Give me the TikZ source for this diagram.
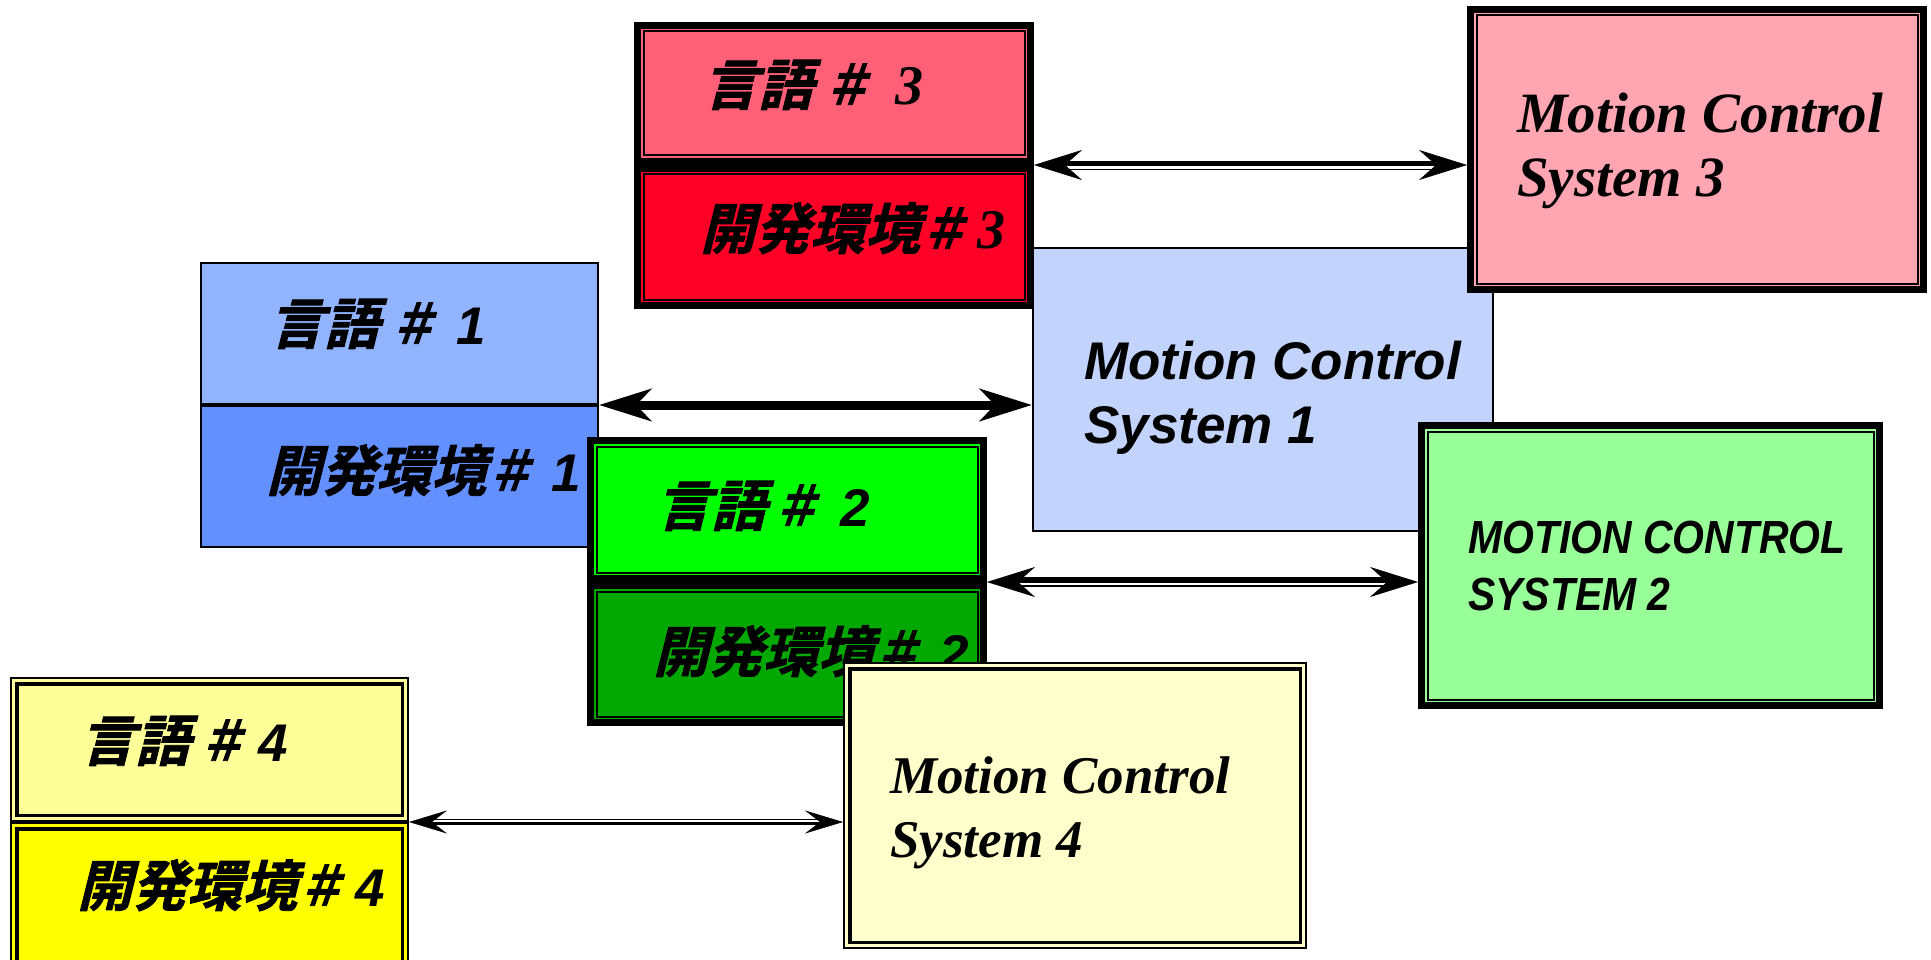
\documentclass[tikz,border=0pt]{standalone}
\usepackage{fontspec}
\setmainfont{Liberation Serif}
\setsansfont{Liberation Sans}
\newfontfamily\jpfont[FakeSlant=0.25,FakeBold=1.5]{Noto Sans CJK JP Bold}
\newfontfamily\hashfont[FakeSlant=0.25,FakeBold=1.5,FakeStretch=0.85]{Noto Sans CJK JP Bold}
\newfontfamily\narrowsans[FakeStretch=0.88]{Liberation Sans}
\usetikzlibrary{arrows.meta}

\definecolor{redlight}{HTML}{FF6078}
\definecolor{reddeep}{HTML}{FF0026}
\definecolor{redsys}{HTML}{FFA6B2}
\definecolor{bluelight}{HTML}{92B4FF}
\definecolor{bluedeep}{HTML}{6290FF}
\definecolor{bluesys}{HTML}{C2D4FC}
\definecolor{greenlight}{HTML}{00FF00}
\definecolor{greendeep}{HTML}{00A800}
\definecolor{greensys}{HTML}{99FF99}
\definecolor{yellowlight}{HTML}{FFFF99}
\definecolor{yellowdeep}{HTML}{FFFF00}
\definecolor{yellowsys}{HTML}{FFFFCC}

% "# n" part of the environment labels: gap, hash, gap, number
\newcommand{\hashmark}{{\hashfont\fontsize{55}{60}\selectfont ＃}}
\newcommand{\numsans}[3]{\hspace{#1pt}\hashmark\hspace{#2pt}{\sffamily\bfseries\itshape\fontsize{53}{60}\selectfont #3}}
\newcommand{\numserif}[3]{\hspace{#1pt}\hashmark\hspace{#2pt}{\rmfamily\bfseries\itshape\fontsize{56}{60}\selectfont #3}}

\tikzset{
  box/.style={rectangle, inner sep=0pt, anchor=center},
  plainbox/.style={box, draw=black, line width=2pt, outer sep=1pt},
  thickthin/.style={box, draw=black, line width=7pt, outer sep=3.5pt,
    path picture={\draw[black, line width=2pt]
      ([shift={(6pt,6pt)}]path picture bounding box.south west) rectangle
      ([shift={(-6pt,-6pt)}]path picture bounding box.north east);}},
  thinthick/.style={box, draw=black, line width=2pt, outer sep=1pt,
    path picture={\draw[black, line width=3.5pt]
      ([shift={(5.75pt,5.75pt)}]path picture bounding box.south west) rectangle
      ([shift={(-5.75pt,-5.75pt)}]path picture bounding box.north east);}},
  jplabel/.style={anchor=base west, inner sep=0pt, font=\jpfont\fontsize{55}{60}\selectfont},
  syslabel/.style={anchor=base west, inner sep=0pt, align=left},
  tipsbig/.style={arrows={Stealth[length=48pt,width=30pt,inset=17pt]-Stealth[length=48pt,width=30pt,inset=17pt]}},
  tipsbold/.style={arrows={Stealth[length=52pt,width=32pt,inset=15pt]-Stealth[length=52pt,width=32pt,inset=15pt]}},
  tipssmall/.style={arrows={Stealth[length=38pt,width=23pt,inset=15pt]-Stealth[length=38pt,width=23pt,inset=15pt]}},
}

\begin{document}
\begin{tikzpicture}[x=1pt,y=-1pt]
\useasboundingbox (0,0) rectangle (1931,960);
\clip (0,0) rectangle (1931,960);
\fill[white] (0,0) rectangle (1931,960);

% environment 1
\node[plainbox, fill=bluelight, minimum width=397pt, minimum height=141pt] (b1a) at (399.5,333.5) {};
\node[jplabel] (t1a) at (269,344) {言語\numsans{10}{21}{1}};
\node[plainbox, fill=bluedeep, minimum width=397pt, minimum height=141pt] (b1b) at (399.5,476.5) {};
\node[jplabel] (t1b) at (266,491) {開発環境\numsans{0}{19}{1}};

% motion control system 1 (base anchor = last line)
\node[plainbox, fill=bluesys, minimum width=460pt, minimum height=283pt] (m1) at (1263,389.5) {};
\node[syslabel, font=\sffamily\bfseries\itshape\fontsize{53}{64}\selectfont] (tm1) at (1084,443) {Motion Control\\System 1};

% environment 3
\node[thickthin, fill=redlight, minimum width=393pt, minimum height=136pt] (b3a) at (834,93.5) {};
\node[jplabel] (t3a) at (703,105) {言語\numserif{10}{26}{3}};
\node[thickthin, fill=reddeep, minimum width=393pt, minimum height=137pt] (b3b) at (834,237) {};
\node[jplabel] (t3b) at (700,249) {開発環境\numserif{0}{11}{3}};

% motion control system 3
\node[thickthin, fill=redsys, minimum width=453pt, minimum height=280pt] (m3) at (1697,149.5) {};
\node[syslabel, font=\rmfamily\bfseries\itshape\fontsize{57}{64}\selectfont] (tm3) at (1517,197) {Motion Control\\System 3};

% environment 2
\node[thickthin, fill=greenlight, minimum width=393pt, minimum height=138pt] (b2a) at (787,509.5) {};
\node[jplabel] (t2a) at (656,526) {言語\numsans{6}{22}{2}};
\node[thickthin, fill=greendeep, minimum width=393pt, minimum height=137pt] (b2b) at (787,654) {};
\node[jplabel] (t2b) at (653,672) {開発環境\numsans{0}{20}{2}};

% motion control system 2
\node[thickthin, fill=greensys, minimum width=458pt, minimum height=280pt] (m2) at (1650.5,565.5) {};
\node[syslabel, font=\narrowsans\bfseries\itshape\fontsize{46.5}{57}\selectfont] (tm2) at (1468,610) {MOTION CONTROL\\SYSTEM 2};

% environment 4
\node[thinthick, fill=yellowlight, minimum width=397pt, minimum height=143pt] (b4a) at (209.5,749.5) {};
\node[jplabel] (t4a) at (80,761) {言語\numsans{8}{14}{4}};
\node[thinthick, fill=yellowdeep, minimum width=397pt, minimum height=151pt] (b4b) at (209.5,898.5) {};
\node[jplabel] (t4b) at (77,906) {開発環境\numsans{0}{12}{4}};

% motion control system 4
\node[thinthick, fill=yellowsys, minimum width=462pt, minimum height=285pt] (m4) at (1075,805.5) {};
\node[syslabel, font=\rmfamily\bfseries\itshape\fontsize{53}{64}\selectfont] (tm4) at (890,857) {Motion Control\\System 4};

% connector ends
\coordinate (a1) at (b1a.south east);
\coordinate (z1) at (b1a.south east -| m1.west);
\coordinate (a2) at (b2a.south east);
\coordinate (z2) at (b2a.south east -| m2.west);
\coordinate (a3) at (b3a.south east);
\coordinate (z3) at (b3a.south east -| m3.west);
\coordinate (a4) at (b4a.south east);
\coordinate (z4) at (b4a.south east -| m4.west);

% 1: single heavy line
\draw[tipsbold, line width=9pt] (a1) -- (z1);

% 3: thick-thin double line
\draw[tipsbig, line width=0.5pt] (a3) -- (z3);
\draw[line width=5pt, shorten <=28pt, shorten >=28pt] ([yshift=1.5pt]a3) -- ([yshift=1.5pt]z3);
\draw[line width=1.5pt, shorten <=28pt, shorten >=28pt] ([yshift=-4.5pt]a3) -- ([yshift=-4.5pt]z3);

% 2: thick-thin double line
\draw[tipsbig, line width=0.5pt] (a2) -- (z2);
\draw[line width=6pt, shorten <=28pt, shorten >=28pt] ([yshift=2pt]a2) -- ([yshift=2pt]z2);
\draw[line width=2pt, shorten <=28pt, shorten >=28pt] ([yshift=-4pt]a2) -- ([yshift=-4pt]z2);

% 4: thin-thick double line
\draw[tipssmall, line width=0.5pt] (a4) -- (z4);
\draw[line width=1.5pt, shorten <=20pt, shorten >=20pt] ([yshift=2.7pt]a4) -- ([yshift=2.7pt]z4);
\draw[line width=3pt, shorten <=20pt, shorten >=20pt] ([yshift=-1.2pt]a4) -- ([yshift=-1.2pt]z4);
\end{tikzpicture}
\end{document}
